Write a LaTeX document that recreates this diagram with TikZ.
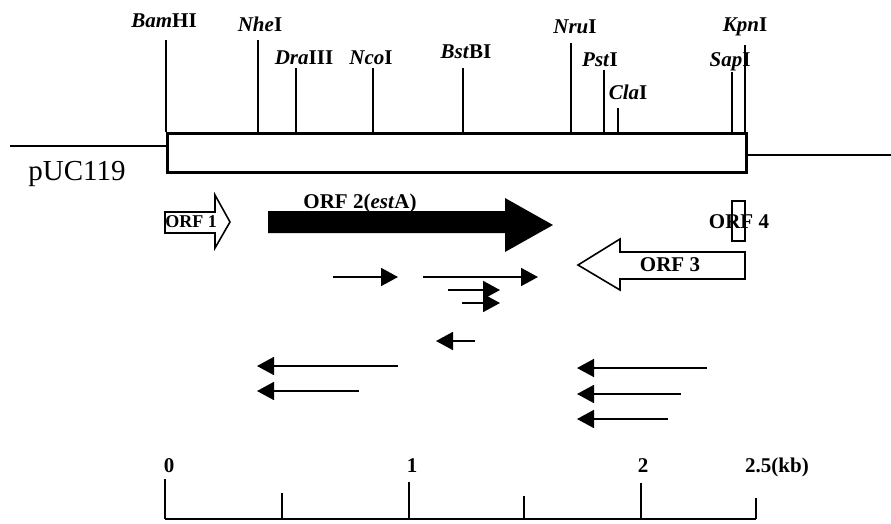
\documentclass[tikz,border=0pt]{standalone}
\usepackage{fontspec}
\setmainfont{Liberation Serif}
\usetikzlibrary{arrows.meta}
\begin{document}
\begin{tikzpicture}[x=1pt,y=-1pt,
  site/.style={font=\fontsize{21}{21}\selectfont\bfseries, anchor=base, inner sep=0pt},
  cut/.style={line width=1.5pt},
  orflabel/.style={font=\fontsize{21}{21}\selectfont\bfseries, inner sep=0pt},
  orfopen/.style={draw, line width=1.6pt, fill=white, line join=miter},
  seq/.style={line width=1.8pt, -{Triangle[length=17pt,width=18pt]}},
  scaletick/.style={line width=1.8pt},
  scalelabel/.style={font=\fontsize{21}{21}\selectfont\bfseries, anchor=base, inner sep=0pt}]
\useasboundingbox (0,0) rectangle (891,523);

% insert box and vector lines
\node[draw, line width=3pt, minimum width=579pt, minimum height=39pt, inner sep=0pt, anchor=north west] (insert) at (166,132) {};
\coordinate (pL) at (10,146);
\coordinate (pR) at (891,155);
\draw[line width=2.5pt] (pL) -- (pL -| insert.west);
\draw[line width=2.5pt] (insert.east |- pR) -- (pR);
\node[font=\fontsize{29}{29}\selectfont, anchor=base, inner sep=0pt] (puc) at (77,180) {pUC119};

% restriction sites
\node[site] (bam) at (164,27) {\textit{Bam}HI};
\node[site] (nhe) at (260,31) {\textit{Nhe}I};
\node[site] (dra) at (304,64) {\textit{Dra}III};
\node[site] (nco) at (371,64) {\textit{Nco}I};
\node[site] (bst) at (466,58) {\textit{Bst}BI};
\node[site] (nru) at (575,33) {\textit{Nru}I};
\node[site] (pst) at (600,66) {\textit{Pst}I};
\node[site] (cla) at (628,99) {\textit{Cla}I};
\node[site] (sap) at (730,66) {\textit{Sap}I};
\node[site] (kpn) at (745,31) {\textit{Kpn}I};

\coordinate (bamT) at (166,40);
\coordinate (nheT) at (258,40);
\coordinate (draT) at (296,68);
\coordinate (ncoT) at (373,68);
\coordinate (bstT) at (463,68);
\coordinate (nruT) at (571,43);
\coordinate (pstT) at (604,70);
\coordinate (claT) at (618,108);
\coordinate (sapT) at (732,72);
\coordinate (kpnT) at (745,45);
\foreach \c in {bamT,nheT,draT,ncoT,bstT,nruT,pstT,claT,sapT,kpnT}
  \draw[cut] (\c) -- (\c |- insert.north);

% ORF 1 (open arrow)
\draw[orfopen] (165,212) -- (215,212) -- (215,195) -- (230,222) -- (215,248) -- (215,233) -- (165,233) -- cycle;
\node[orflabel, font=\fontsize{18}{18}\selectfont\bfseries] (orf1) at (191,222) {ORF 1};

% ORF 2 (filled arrow)
\fill (268,211) -- (505,211) -- (505,198) -- (553,225) -- (505,252) -- (505,233) -- (268,233) -- cycle;
\node[orflabel, anchor=base] (orf2) at (360,208) {ORF 2(\textit{est}A)};

% ORF 3 (open arrow to the left)
\draw[orfopen] (745,252) -- (620,252) -- (620,239) -- (578,265) -- (620,290) -- (620,279) -- (745,279) -- cycle;
\node[orflabel] (orf3) at (670,265) {ORF 3};

% ORF 4
\node[orflabel] (orf4) at (739,222) {ORF 4};
\node[draw, line width=1.5pt, minimum width=13pt, minimum height=40pt, inner sep=0pt] (orf4box) at (738.5,221) {};

% sequencing arrows to the right
\coordinate (r1a) at (333,277); \coordinate (r1b) at (398,277);
\coordinate (r2a) at (423,277); \coordinate (r2b) at (538,277);
\coordinate (r3a) at (448,290); \coordinate (r3b) at (500,290);
\coordinate (r4a) at (462,303); \coordinate (r4b) at (500,303);
\draw[seq] (r1a) -- (r1b);
\draw[seq] (r2a) -- (r2b);
\draw[seq] (r3a) -- (r3b);
\draw[seq] (r4a) -- (r4b);

% sequencing arrows to the left
\coordinate (l1a) at (475,341); \coordinate (l1b) at (436,341);
\coordinate (l2a) at (398,366); \coordinate (l2b) at (257,366);
\coordinate (l3a) at (359,391); \coordinate (l3b) at (257,391);
\coordinate (l4a) at (707,368); \coordinate (l4b) at (577,368);
\coordinate (l5a) at (681,394); \coordinate (l5b) at (577,394);
\coordinate (l6a) at (668,419); \coordinate (l6b) at (577,419);
\draw[seq] (l1a) -- (l1b);
\draw[seq] (l2a) -- (l2b);
\draw[seq] (l3a) -- (l3b);
\draw[seq] (l4a) -- (l4b);
\draw[seq] (l5a) -- (l5b);
\draw[seq] (l6a) -- (l6b);

% scale bar
\coordinate (s0) at (165,519);
\coordinate (s5) at (756,519);
\draw[line width=2pt] (s0) -- (s5);
\coordinate (t0) at (165,479);
\coordinate (t1) at (282,493);
\coordinate (t2) at (409,482);
\coordinate (t3) at (524,496);
\coordinate (t4) at (641,483);
\coordinate (t5) at (756,498);
\foreach \t in {t0,t1,t2,t3,t4,t5}
  \draw[scaletick] (\t) -- (\t |- s0);
\node[scalelabel] (k0) at (169,472) {0};
\node[scalelabel] (k1) at (412,472) {1};
\node[scalelabel] (k2) at (643,472) {2};
\node[scalelabel] (k25) at (777,472) {2.5(kb)};
\end{tikzpicture}
\end{document}
